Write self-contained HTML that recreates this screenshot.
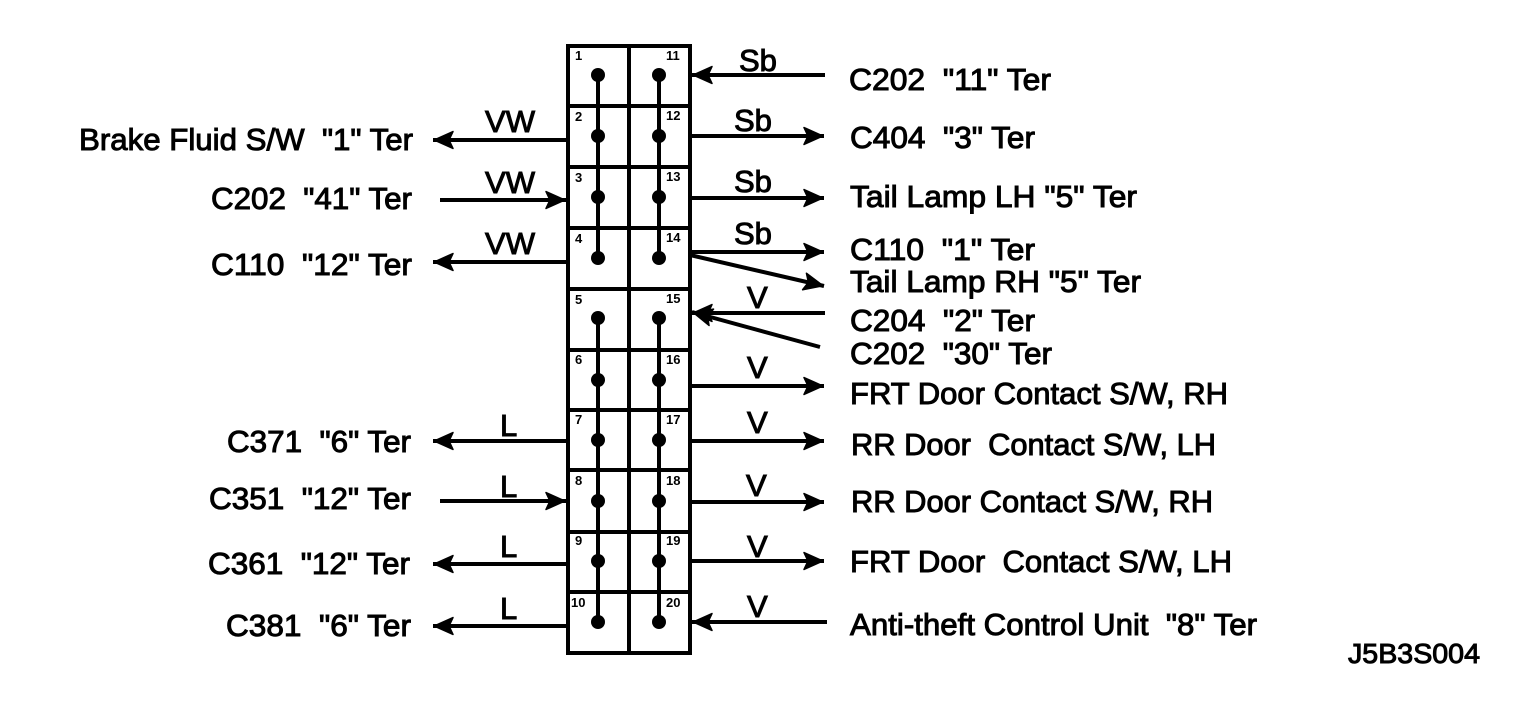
<!DOCTYPE html>
<html><head><meta charset="utf-8"><style>html,body{margin:0;padding:0;background:#fff}svg{display:block}
text{font-family:"Liberation Sans",sans-serif;font-size:31px;fill:#000;stroke:#000;stroke-width:1;white-space:pre}
.n{font-size:13px;font-weight:bold;stroke:none}</style></head><body>
<svg width="1536" height="728" viewBox="0 0 1536 728" xmlns="http://www.w3.org/2000/svg">
<defs>
<marker id="a" markerUnits="userSpaceOnUse" markerWidth="22" markerHeight="20" refX="21" refY="10" orient="auto-start-reverse"><path d="M1 1.5L20 10L1 18.5L5 10Z" fill="#000" stroke="#000" stroke-width="1.5" stroke-linejoin="round"/></marker>
</defs>
<g stroke="#000" stroke-width="4" fill="none">
<rect x="568" y="46" width="122" height="607"/>
<path d="M629 46V653M568 106H690M568 167H690M568 228H690M568 289H690M568 350H690M568 410H690M568 470H690M568 532H690M568 592H690"/>
<path d="M598 75V258M659 75V258M598 318V622M659 318V622"/>
</g>
<g fill="#000">
<circle cx="598" cy="75" r="7"/><circle cx="598" cy="136" r="7"/><circle cx="598" cy="197" r="7"/><circle cx="598" cy="258" r="7"/><circle cx="598" cy="318" r="7"/><circle cx="598" cy="380" r="7"/><circle cx="598" cy="440" r="7"/><circle cx="598" cy="501" r="7"/><circle cx="598" cy="561" r="7"/><circle cx="598" cy="622" r="7"/>
<circle cx="659" cy="75" r="7"/><circle cx="659" cy="136" r="7"/><circle cx="659" cy="197" r="7"/><circle cx="659" cy="258" r="7"/><circle cx="659" cy="318" r="7"/><circle cx="659" cy="380" r="7"/><circle cx="659" cy="440" r="7"/><circle cx="659" cy="501" r="7"/><circle cx="659" cy="561" r="7"/><circle cx="659" cy="622" r="7"/>
</g>
<g stroke="#000" stroke-width="4" fill="none">
<path d="M825 75H692" marker-end="url(#a)"/>
<path d="M690 136H824" marker-end="url(#a)"/>
<path d="M690 198H824" marker-end="url(#a)"/>
<path d="M690 252H824" marker-end="url(#a)"/>
<path d="M690 255L824 286" marker-end="url(#a)"/>
<path d="M825 313H692" marker-end="url(#a)"/>
<path d="M820 347L692 312" marker-end="url(#a)"/>
<path d="M690 386H824" marker-end="url(#a)"/>
<path d="M690 441H824" marker-end="url(#a)"/>
<path d="M690 502H824" marker-end="url(#a)"/>
<path d="M690 561H824" marker-end="url(#a)"/>
<path d="M827 622H692" marker-end="url(#a)"/>
<path d="M566 140H433" marker-end="url(#a)"/>
<path d="M440 200H566" marker-end="url(#a)"/>
<path d="M566 262H433" marker-end="url(#a)"/>
<path d="M566 441H433" marker-end="url(#a)"/>
<path d="M440 501H566" marker-end="url(#a)"/>
<path d="M566 564H433" marker-end="url(#a)"/>
<path d="M566 626H433" marker-end="url(#a)"/>
</g>
<g>
<text x="79" y="150" textLength="334" lengthAdjust="spacingAndGlyphs">Brake Fluid S/W  "1" Ter</text>
<text x="211" y="209" textLength="201" lengthAdjust="spacingAndGlyphs">C202  "41" Ter</text>
<text x="211" y="275" textLength="201" lengthAdjust="spacingAndGlyphs">C110  "12" Ter</text>
<text x="227" y="452" textLength="184" lengthAdjust="spacingAndGlyphs">C371  "6" Ter</text>
<text x="209" y="509" textLength="202" lengthAdjust="spacingAndGlyphs">C351  "12" Ter</text>
<text x="208" y="574" textLength="202" lengthAdjust="spacingAndGlyphs">C361  "12" Ter</text>
<text x="226" y="636" textLength="185" lengthAdjust="spacingAndGlyphs">C381  "6" Ter</text>
<text x="849" y="90" textLength="202" lengthAdjust="spacingAndGlyphs">C202  "11" Ter</text>
<text x="850" y="148" textLength="185" lengthAdjust="spacingAndGlyphs">C404  "3" Ter</text>
<text x="850" y="207" textLength="287" lengthAdjust="spacingAndGlyphs">Tail Lamp LH "5" Ter</text>
<text x="850" y="260" textLength="185" lengthAdjust="spacingAndGlyphs">C110  "1" Ter</text>
<text x="850" y="292" textLength="291" lengthAdjust="spacingAndGlyphs">Tail Lamp RH "5" Ter</text>
<text x="850" y="331" textLength="185" lengthAdjust="spacingAndGlyphs">C204  "2" Ter</text>
<text x="850" y="364" textLength="202" lengthAdjust="spacingAndGlyphs">C202  "30" Ter</text>
<text x="850" y="404" textLength="378" lengthAdjust="spacingAndGlyphs">FRT Door Contact S/W, RH</text>
<text x="851" y="455" textLength="365" lengthAdjust="spacingAndGlyphs">RR Door  Contact S/W, LH</text>
<text x="851" y="512" textLength="362" lengthAdjust="spacingAndGlyphs">RR Door Contact S/W, RH</text>
<text x="850" y="572" textLength="382" lengthAdjust="spacingAndGlyphs">FRT Door  Contact S/W, LH</text>
<text x="850" y="635" textLength="407" lengthAdjust="spacingAndGlyphs">Anti-theft Control Unit  "8" Ter</text>
<text x="1348" y="663" textLength="132" lengthAdjust="spacingAndGlyphs" style="font-size:28px">J5B3S004</text>
<text x="485" y="132" textLength="50" lengthAdjust="spacingAndGlyphs">VW</text><text x="485" y="193" textLength="50" lengthAdjust="spacingAndGlyphs">VW</text><text x="485" y="254" textLength="50" lengthAdjust="spacingAndGlyphs">VW</text>
<text x="500" y="436">L</text><text x="500" y="497">L</text><text x="500" y="557">L</text><text x="500" y="619">L</text>
<text x="739" y="71">Sb</text><text x="734" y="131">Sb</text><text x="734" y="192">Sb</text><text x="734" y="244">Sb</text>
<text x="747" y="308">V</text><text x="747" y="378">V</text><text x="747" y="433">V</text><text x="746" y="496">V</text><text x="747" y="557">V</text><text x="747" y="617">V</text>
</g>
<g>
<text class="n" x="575" y="60">1</text><text class="n" x="575" y="121">2</text><text class="n" x="575" y="182">3</text><text class="n" x="575" y="243">4</text><text class="n" x="575" y="304">5</text><text class="n" x="575" y="364">6</text><text class="n" x="575" y="424">7</text><text class="n" x="575" y="485">8</text><text class="n" x="575" y="545">9</text><text class="n" x="571" y="607">10</text>
<text class="n" x="666" y="60">11</text><text class="n" x="666" y="120">12</text><text class="n" x="666" y="181">13</text><text class="n" x="666" y="242">14</text><text class="n" x="666" y="303">15</text><text class="n" x="666" y="364">16</text><text class="n" x="666" y="424">17</text><text class="n" x="666" y="485">18</text><text class="n" x="666" y="545">19</text><text class="n" x="666" y="607">20</text>
</g>
</svg>
</body></html>
